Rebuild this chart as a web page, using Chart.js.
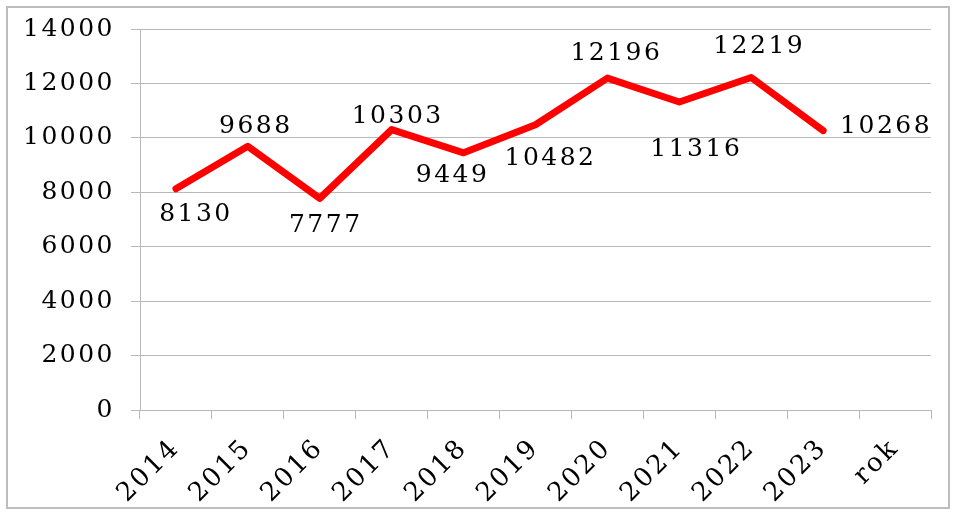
<!DOCTYPE html>
<html>
<head>
<meta charset="utf-8">
<script src="https://cdn.jsdelivr.net/npm/chart.js@4"></script>
<style>
  html, body { margin: 0; padding: 0; background: #ffffff; }
  #wrap { position: relative; width: 958px; height: 515px; }
  canvas { display: block; }
</style>
</head>
<body>
<div id="wrap"><canvas id="c" width="958" height="515"></canvas></div>
<script>
// ---- data ----
const categories = ['2014', '2015', '2016', '2017', '2018', '2019', '2020', '2021', '2022', '2023', 'rok'];
const values = [8130, 9688, 7777, 10303, 9449, 10482, 12196, 11316, 12219, 10268, null];
const yTicks = [0, 2000, 4000, 6000, 8000, 10000, 12000, 14000];

// ---- styling ----
const FONT = '"DejaVu Serif", "Liberation Serif", serif';
const GRID = '#b8b8b8';
const SPACING = '2.5px';
const FSIZE = 25;
// label offsets (pixels from point to label centre)
const labelOffsets = [[19, 23], [7, -22], [5, 25], [5, -16], [-12, 20], [14, 31], [8, -27], [16, 45], [7, -33], [62, -7]];

const spacingPlugin = {
  id: 'spacing',
  beforeUpdate(chart) { chart.ctx.letterSpacing = SPACING; },
  beforeDraw(chart) { chart.ctx.letterSpacing = SPACING; }
};

const framePlugin = {
  id: 'frame',
  afterDraw(chart) {
    const ctx = chart.ctx;
    ctx.save();
    ctx.strokeStyle = '#bdbdbd';
    ctx.lineWidth = 2;
    ctx.strokeRect(7, 7, 942, 501);
    ctx.restore();
  }
};

const labelPlugin = {
  id: 'valueLabels',
  afterDatasetsDraw(chart) {
    const ctx = chart.ctx;
    const meta = chart.getDatasetMeta(0);
    ctx.save();
    ctx.letterSpacing = SPACING;
    ctx.font = FSIZE + 'px ' + FONT;
    ctx.fillStyle = '#000000';
    ctx.textAlign = 'center';
    ctx.textBaseline = 'alphabetic';
    meta.data.forEach((pt, i) => {
      const v = values[i];
      if (v === null || v === undefined) return;
      const off = labelOffsets[i] || [0, 0];
      ctx.fillText(String(v), pt.x + off[0] + 1, pt.y + off[1] + 9);
    });
    ctx.restore();
  }
};

new Chart(document.getElementById('c'), {
  type: 'line',
  data: {
    labels: categories,
    datasets: [{
      data: values,
      borderColor: '#ff0000',
      backgroundColor: '#ff0000',
      borderWidth: 7,
      borderJoinStyle: 'round',
      borderCapStyle: 'round',
      pointRadius: 0,
      pointHoverRadius: 0,
      tension: 0,
      spanGaps: false
    }]
  },
  options: {
    responsive: false,
    animation: false,
    events: [],
    layout: { padding: { left: 0, top: 29, right: 27, bottom: 0 } },
    plugins: { legend: { display: false }, tooltip: { enabled: false } },
    scales: {
      x: {
        type: 'category',
        offset: true,
        afterFit(scale) { scale.height = 105; },
        grid: {
          offset: true,
          drawOnChartArea: false,
          drawTicks: true,
          tickLength: 9,
          color: GRID,
          lineWidth: 1
        },
        border: { display: true, color: GRID, width: 1 },
        ticks: {
          autoSkip: false,
          maxRotation: 45,
          minRotation: 45,
          padding: 14,
          color: '#000000',
          font: { family: FONT, size: 26 }
        }
      },
      y: {
        min: 0,
        max: 14000,
        afterFit(scale) {
          scale.width = 140;
          scale.paddingTop = 10;
          scale.paddingBottom = 10;
        },
        afterBuildTicks(scale) { scale.ticks = yTicks.map(v => ({ value: v })); },
        grid: {
          drawTicks: true,
          tickLength: 9,
          color: GRID,
          lineWidth: 1
        },
        border: { display: true, color: GRID, width: 1 },
        ticks: {
          padding: 16,
          color: '#000000',
          font: { family: FONT, size: FSIZE },
          callback: (v) => String(v)
        }
      }
    }
  },
  plugins: [spacingPlugin, labelPlugin, framePlugin]
});
</script>
</body>
</html>
